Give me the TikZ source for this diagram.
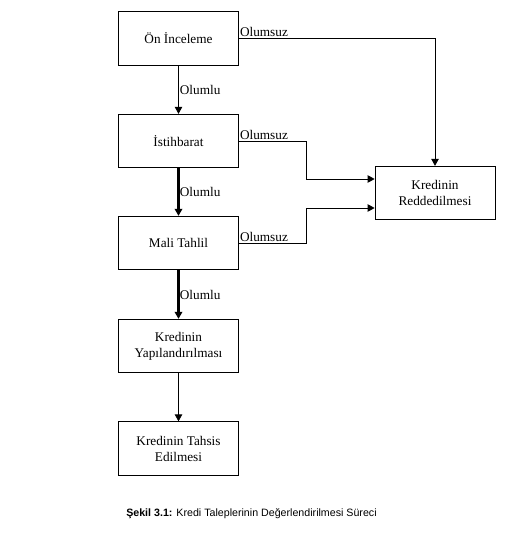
\documentclass[tikz,border=0pt]{standalone}
\usepackage{fontspec}
\setmainfont{Liberation Serif}
\newfontfamily\capfont{Liberation Sans}
\usepackage{tikz}
\usetikzlibrary{arrows.meta,positioning}

\begin{document}
\begin{tikzpicture}[x=1bp, y=-1bp]
			\tikzstyle{Step}	= [rectangle, draw, line width=0.8bp, fill=white, minimum width=119.5bp, minimum height=53.5bp, inner sep=0pt, align=center, font=\fontsize{13.3}{16}\selectfont]
			\tikzstyle{Lbl}		= [inner sep=1bp, font=\fontsize{13.3}{15}\selectfont]
			\tikzstyle{Arr}		= [-{Triangle[length=7bp, width=7.5bp]}, line width=0.8bp]
			\tikzstyle{Thick}	= [line width=2.4bp]

			\useasboundingbox (0, 0) rectangle (521, 551);

			\node (onc) at (178.5, 38.5) [Step] {Ön İnceleme};
			\node (ist) at (178.5, 141) [Step] {İstihbarat};
			\node (mali) at (178.5, 243) [Step] {Mali Tahlil};
			\node (yap) at (178.5, 346) [Step] {Kredinin\\Yapılandırılması};
			\node (tah) at (178.5, 448.5) [Step] {Kredinin Tahsis\\Edilmesi};
			\node (red) at (435, 193) [Step, minimum width=120bp] {Kredinin\\Reddedilmesi};

			% olumlu
			\draw [Arr] (onc) to node [Lbl, right] {Olumlu} (ist);
			\draw [Arr] (ist) to node [Lbl, right] {Olumlu} (mali) [Thick];
			\draw [Arr] (mali) to node [Lbl, right] {Olumlu} (yap) [Thick];
			\draw [Arr] (yap) to (tah);

			% olumsuz
			\draw [Arr] (onc.east) node [Lbl, above right] {Olumsuz} -| (red.north);
			\draw [Arr] (ist.east) node [Lbl, above right] {Olumsuz} -- ++(68, 0) |- ([yshift=14bp]red.west);
			\draw [Arr] (mali.east) node [Lbl, above right] {Olumsuz} -- ++(68, 0) |- ([yshift=-15bp]red.west);

			\node (cap) at (251.5, 514) [font=\capfont\fontsize{10.7}{12}\selectfont] {\textbf{Şekil 3.1:} Kredi Taleplerinin Değerlendirilmesi Süreci};
		\end{tikzpicture}
\end{document}
